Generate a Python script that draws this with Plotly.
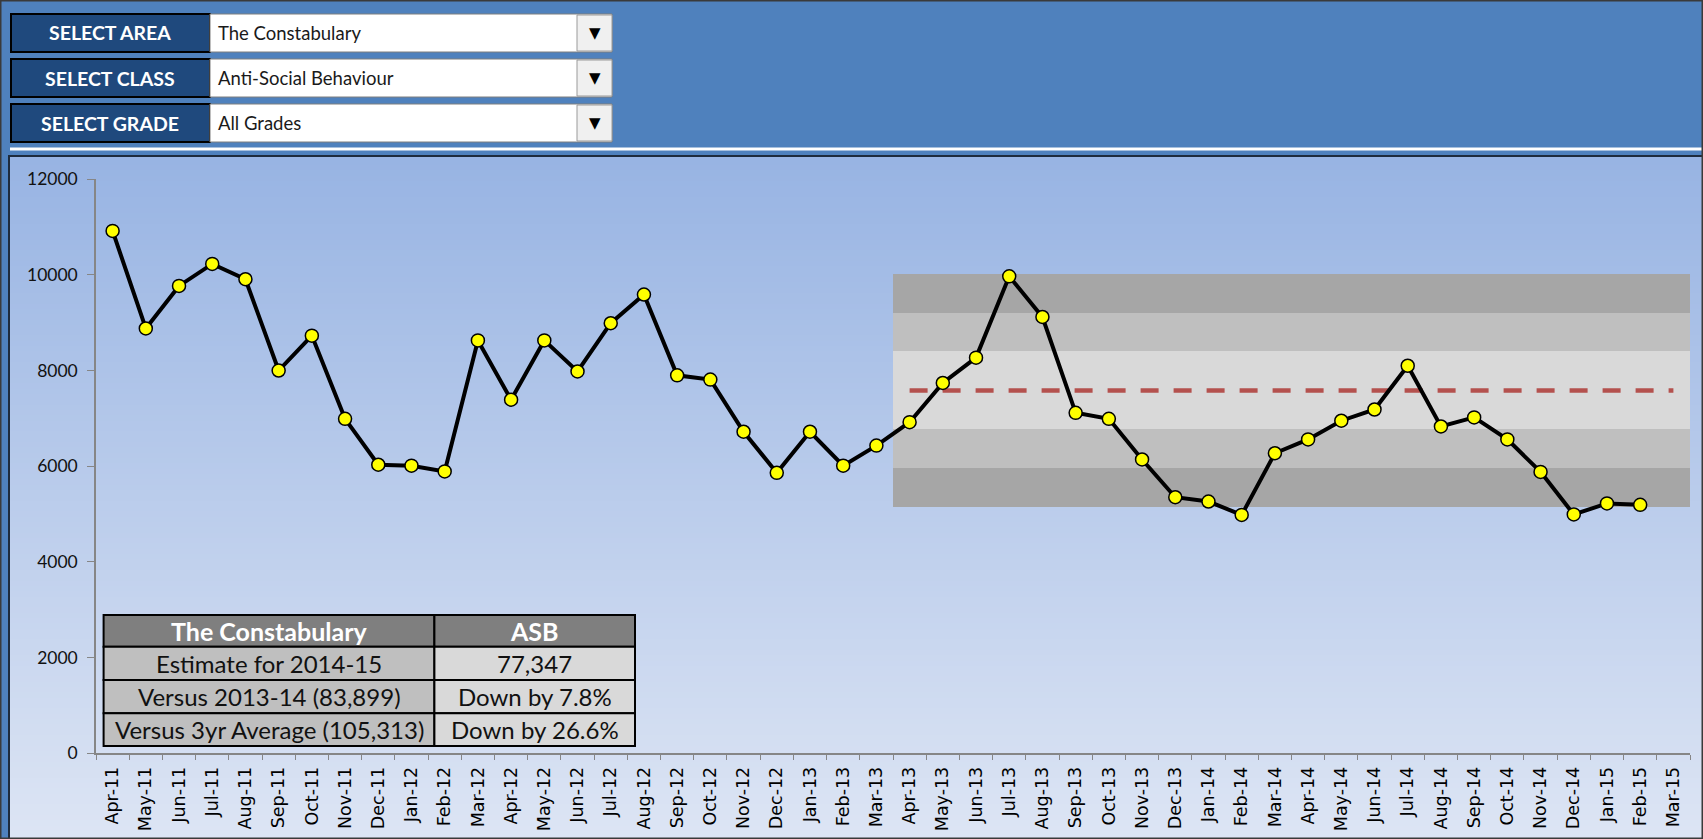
import base64
import struct
import zlib

import plotly.graph_objects as go

W, H = 1703, 839

# monthly categories on the x axis
months = ["Apr-11", "May-11", "Jun-11", "Jul-11", "Aug-11", "Sep-11", "Oct-11", "Nov-11",
          "Dec-11", "Jan-12", "Feb-12", "Mar-12", "Apr-12", "May-12", "Jun-12", "Jul-12",
          "Aug-12", "Sep-12", "Oct-12", "Nov-12", "Dec-12", "Jan-13", "Feb-13", "Mar-13",
          "Apr-13", "May-13", "Jun-13", "Jul-13", "Aug-13", "Sep-13", "Oct-13", "Nov-13",
          "Dec-13", "Jan-14", "Feb-14", "Mar-14", "Apr-14", "May-14", "Jun-14", "Jul-14",
          "Aug-14", "Sep-14", "Oct-14", "Nov-14", "Dec-14", "Jan-15", "Feb-15", "Mar-15"]

# recorded ASB incidents per month (Apr-11 .. Feb-15)
asb_counts = [10920, 8880, 9770, 10230, 9910, 8000, 8730, 6990, 6030, 6010, 5890, 8630,
              7390, 8630, 7980, 8990, 9590, 7900, 7810, 6720, 5860, 6720, 6010, 6430,
              6920, 7740, 8270, 9970, 9120, 7115, 6990, 6140, 5350, 5260, 4980, 6270,
              6560, 6950, 7185, 8100, 6830, 7020, 6560, 5880, 4990, 5220, 5190]

# control band (mean +/- 1, 2, 3 sd) for the last two years
band_months = months[24:]
band_edges = [5140, 5950, 6770, 8410, 9200, 10010]
band_colors = ["#A6A6A6", "#BFBFBF", "#D9D9D9", "#BFBFBF", "#A6A6A6"]
mean_estimate = 7580

# summary table
table_header = ["The Constabulary", "ASB"]
table_labels = ["Estimate for 2014-15", "Versus 2013-14 (83,899)", "Versus 3yr Average (105,313)"]
table_values = ["77,347", "Down by 7.8%", "Down by 26.6%"]

# selector boxes in the header
selector_labels = ["SELECT AREA", "SELECT CLASS", "SELECT GRADE"]
selector_values = ["The Constabulary", "Anti-Social Behaviour", "All Grades"]


def fx(px):
    return px / W


def fy(py):
    return 1 - py / H


def gradient_png(top, bottom, n=128):
    #small vertical gradient image for the chart panel background
    rows = b""
    for i in range(n):
        t = i / (n - 1)
        c = bytes(int(round(a + (b - a) * t)) for a, b in zip(top, bottom))
        rows += b"\x00" + c * 2

    def chunk(tag, data):
        return (struct.pack(">I", len(data)) + tag + data
                + struct.pack(">I", zlib.crc32(tag + data) & 0xffffffff))

    png = (b"\x89PNG\r\n\x1a\n"
           + chunk(b"IHDR", struct.pack(">IIBBBBB", 2, n, 8, 2, 0, 0, 0))
           + chunk(b"IDAT", zlib.compress(rows))
           + chunk(b"IEND", b""))
    return "data:image/png;base64," + base64.b64encode(png).decode()


fig = go.Figure()

#grey control bands
for i, color in enumerate(band_colors):
    fig.add_trace(go.Bar(x=band_months,
                         y=[band_edges[i + 1] - band_edges[i]] * len(band_months),
                         base=band_edges[i], width=1,
                         marker=dict(color=color, line=dict(width=0)),
                         hoverinfo="skip", showlegend=False))

#mean line
fig.add_trace(go.Scatter(x=band_months, y=[mean_estimate] * len(band_months),
                         mode="lines", hoverinfo="skip", showlegend=False,
                         line=dict(color="#B4514E", width=4.5, dash="18px,15px")))

#monthly series
fig.add_trace(go.Scatter(x=months[:len(asb_counts)], y=asb_counts,
                         mode="lines+markers", showlegend=False,
                         line=dict(color="black", width=4),
                         marker=dict(size=13, color="#FFFF00",
                                     line=dict(color="black", width=1.5))))

shapes = []
annotations = []

#summary table drawn as cells so the row heights stay tight
col_edges = [103.6, 434.4, 635]
row_edges = [615, 646.7, 680, 713.3, 746]
table_rows = [table_header] + [[a, b] for a, b in zip(table_labels, table_values)]
for r, row in enumerate(table_rows):
    for c, text in enumerate(row):
        if r == 0:
            fill, font = "#7F7F7F", dict(family="Lato", size=25, color="white")
            text = "<b>%s</b>" % text
        else:
            fill = "#BFBFBF" if c == 0 else "#D9D9D9"
            font = dict(family="Lato", size=24, color="#111111")
        shapes.append(dict(type="rect", xref="paper", yref="paper",
                           x0=fx(col_edges[c]), x1=fx(col_edges[c + 1]),
                           y0=fy(row_edges[r + 1]), y1=fy(row_edges[r]),
                           fillcolor=fill, line=dict(color="black", width=2), layer="above"))
        annotations.append(dict(x=fx((col_edges[c] + col_edges[c + 1]) / 2),
                                y=fy((row_edges[r] + row_edges[r + 1]) / 2),
                                xref="paper", yref="paper", text=text, showarrow=False,
                                xanchor="center", yanchor="middle", font=font))

#header decoration: selectors, separator line and panel borders
rows = [(14, 52), (59, 97), (104, 142)]
for (top, bottom), label, value in zip(rows, selector_labels, selector_values):
    shapes.append(dict(type="rect", xref="paper", yref="paper",
                       x0=fx(11), x1=fx(210), y0=fy(bottom), y1=fy(top),
                       fillcolor="#1F497D", line=dict(color="black", width=2)))
    shapes.append(dict(type="rect", xref="paper", yref="paper",
                       x0=fx(210), x1=fx(612), y0=fy(bottom), y1=fy(top),
                       fillcolor="white", line=dict(color="#7F7F7F", width=1)))
    shapes.append(dict(type="rect", xref="paper", yref="paper",
                       x0=fx(577), x1=fx(612), y0=fy(bottom - 1), y1=fy(top + 1),
                       fillcolor="#F0F0F0", line=dict(color="#9A9A9A", width=1)))
    mid = fy((top + bottom) / 2)
    annotations.append(dict(x=fx(110), y=mid, xref="paper", yref="paper", text="<b>%s</b>" % label,
                            xanchor="center", yanchor="middle", showarrow=False,
                            font=dict(family="Lato", size=19.5, color="white")))
    annotations.append(dict(x=fx(216), y=mid, xref="paper", yref="paper", text=value,
                            xanchor="left", yanchor="middle", showarrow=False,
                            font=dict(family="Lato", size=18.5, color="#1A1A1A")))
    annotations.append(dict(x=fx(594.5), y=mid, xref="paper", yref="paper", text="▼",
                            xanchor="center", yanchor="middle", showarrow=False,
                            font=dict(family="DejaVu Sans", size=15, color="black")))

shapes.append(dict(type="line", xref="paper", yref="paper", x0=fx(10), x1=1, y0=fy(149), y1=fy(149),
                   line=dict(color="white", width=3)))
shapes.append(dict(type="rect", xref="paper", yref="paper", x0=fx(9), x1=1,
                   y0=0, y1=fy(156), line=dict(color="#1E2B3C", width=2)))
shapes.append(dict(type="rect", xref="paper", yref="paper", x0=0, x1=1,
                   y0=0, y1=1, line=dict(color="#3A3A3A", width=3)))

fig.update_layout(width=W, height=H, autosize=False,
                  margin=dict(l=0, r=0, t=0, b=0, pad=0, autoexpand=False),
                  paper_bgcolor="#4F81BD", plot_bgcolor="rgba(0,0,0,0)",
                  showlegend=False, barmode="overlay", bargap=0,
                  shapes=shapes, annotations=annotations,
                  images=[dict(source=gradient_png((152, 180, 227), (221, 229, 244)),
                               xref="paper", yref="paper", x=fx(10), y=fy(157),
                               sizex=1 - fx(10), sizey=fy(157), xanchor="left", yanchor="top",
                               sizing="stretch", layer="below")])

fig.update_xaxes(domain=[fx(96), fx(1690)], type="category", automargin=False,
                 categoryorder="array", categoryarray=months, range=[-0.5, 47.5],
                 showline=True, linecolor="#868686", linewidth=1.5,
                 ticks="outside", tickson="boundaries", ticklen=5, tickcolor="#868686",
                 tickangle=-90, ticklabelstandoff=5,
                 tickfont=dict(family="DejaVu Sans", size=17.5, color="black"),
                 showgrid=False, zeroline=False)

fig.update_yaxes(domain=[fy(753), fy(179.3)], range=[0, 12000], dtick=2000,
                 tickformat="d", automargin=False,
                 showline=True, linecolor="#868686", linewidth=1.5,
                 ticks="outside", ticklen=7, tickcolor="#868686", ticklabelstandoff=6,
                 tickfont=dict(family="Lato", size=17.5, color="#111111"),
                 showgrid=False, zeroline=False)

#the page body has a default 8px margin; drop it so the figure sits at the window corner
fig.write_html("out.html", config={"displayModeBar": False},
               post_script="document.body.style.margin = '0';")
